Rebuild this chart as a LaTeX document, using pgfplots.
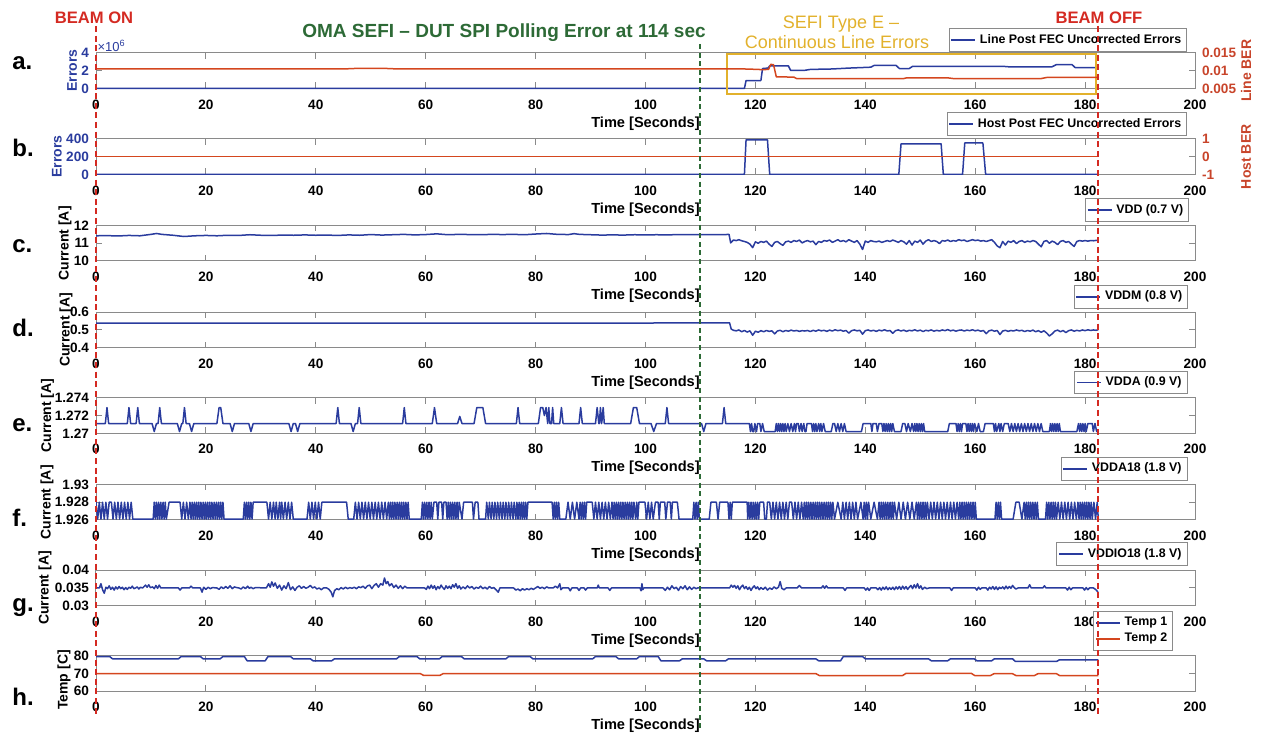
\documentclass[border=0pt]{standalone}
\usepackage{fontspec}
\setmainfont{Liberation Sans}
\usepackage{pgfplots}
\pgfplotsset{compat=1.18}
\definecolor{lblue}{HTML}{2A3C9E}
\definecolor{lred}{HTML}{D4461E}
\definecolor{tred}{HTML}{C8442A}
\definecolor{bred}{HTML}{D42A22}
\definecolor{dgreen}{HTML}{2D6A36}
\definecolor{gold}{HTML}{E2B12C}
\definecolor{axgray}{HTML}{8A8A8A}
\newcommand\tfont{\bfseries\fontsize{6.8}{8}\selectfont}
\pgfplotsset{
  panel/.style={
    scale only axis, width=549.5pt, height=17.75pt,
    anchor=south west,
    xmin=0, xmax=200, xtick={0,20,...,200},
    scaled ticks=false,
    /pgf/number format/fixed,
    /pgf/number format/precision=3,
    /pgf/number format/assume math mode=true,
    tick label style={font=\tfont},
    xticklabel style={yshift=-2pt},
    xlabel={Time [Seconds]},
    xlabel style={font=\bfseries\fontsize{7.3}{8.5}\selectfont, at={(axis description cs:0.5,0)}, anchor=center, yshift=-17.4pt},
    ylabel style={font=\bfseries\fontsize{7}{8}\selectfont, anchor=center},
    axis line style={axgray, line width=0.5pt},
    tick style={axgray, line width=0.5pt},
    major tick length=3pt,
    legend style={font=\bfseries\fontsize{6.2}{7}\selectfont, draw=axgray, line width=0.4pt, fill=white, inner sep=0.7pt, anchor=south east, row sep=-1.8pt},
    legend cell align=left,
    legend image code/.code={\draw[##1, line width=0.8pt] (0cm,0cm) -- (0.42cm,0cm);},
    every axis plot/.append style={line width=0.75pt, line join=round},
  },
}
\begin{document}
\begin{tikzpicture}
\begin{scope}[x=0.5pt,y=-0.5pt]
\useasboundingbox (0,0) rectangle (1263,734);
\end{scope}

% ---------------- a ----------------
\begin{axis}[panel, at={(48pt,-44.25pt)}, ymin=0, ymax=4000000, ytick={0,2000000,4000000}, yticklabels={0,2,4},
  ytick pos=left, yticklabel style={text=lblue}, ylabel={Errors},
  ylabel style={text=lblue, at={(axis description cs:-0.0218,0.5)}}, clip=false,
  legend style={at={(axis description cs:0.9927,1.03)}}]
\addplot[lblue] coordinates {(0,0)(118.0,0)(118.3,900000)(121.0,900000)(121.3,2250000)(122.3,2300000)(122.6,2550000)(126.0,2550000)(126.4,2050000)(129,2050000)(130,2150000)(134,2200000)(137,2300000)(139,2350000)(141,2400000)(141.6,2600000)(145.6,2600000)(146.2,2250000)(148,2250000)(148.6,2500000)(165,2500000)(166,2450000)(174,2450000)(174.8,2700000)(177.6,2700000)(178.2,2350000)(182.4,2350000)};
\addlegendentry{Line Post FEC Uncorrected Errors}
\draw[gold, line width=1pt] (axis cs:114.8,-650000) rectangle (axis cs:182.0,3930000);
\node[anchor=south west, text=lblue, inner sep=0.6pt, font=\fontsize{6.5}{7}\selectfont] at (axis description cs:0,1) {×10\textsuperscript{6}};
\end{axis}
\begin{axis}[panel, at={(48pt,-44.25pt)}, hide x axis, axis y line*=right, y axis line style={-},
  ymin=0.005, ymax=0.015, ytick={0.005,0.01,0.015}, yticklabel style={text=tred},
  ylabel={Line BER}, ylabel style={text=tred, at={(axis description cs:1.0464,0.5)}}]
\addplot[lred] coordinates {(0,0.0105)(30,0.0105)(45,0.0105)(48,0.0107)(52,0.0107)(55,0.0105)(110,0.0105)(118,0.0105)(120,0.0104)(121.5,0.0103)(122.4,0.0104)(122.8,0.0118)(123.3,0.0117)(123.8,0.0083)(127,0.0082)(127.5,0.0078)(140,0.0078)(147,0.0078)(147.5,0.0080)(155,0.0080)(156,0.0078)(172,0.0078)(173,0.0081)(182.4,0.0081)};
\end{axis}

% ---------------- b ----------------
\begin{axis}[panel, at={(48pt,-87.25pt)}, ymin=0, ymax=400, ytick={0,200,400},
  ytick pos=left, yticklabel style={text=lblue}, ylabel={Errors},
  ylabel style={text=lblue, at={(axis description cs:-0.0355,0.5)}},
  legend style={at={(axis description cs:0.9927,1.09)}}]
\addplot[lblue] coordinates {(0,0)(118.0,0)(118.3,390)(122.2,390)(122.6,0)(146.1,0)(146.5,345)(153.8,345)(154.2,0)(157.7,0)(158.1,355)(161.4,355)(161.9,0)(182.4,0)};
\addlegendentry{Host Post FEC Uncorrected Errors}
\end{axis}
\begin{axis}[panel, at={(48pt,-87.25pt)}, hide x axis, axis y line*=right, y axis line style={-},
  ymin=-1, ymax=1, ytick={-1,0,1}, yticklabel style={text=tred},
  ylabel={Host BER}, ylabel style={text=tred, at={(axis description cs:1.0464,0.5)}}]
\addplot[lred] coordinates {(0,0)(182.4,0)};
\end{axis}

% ---------------- c ----------------
\begin{axis}[panel, at={(48pt,-130.5pt)}, ymin=10, ymax=12, ytick={10,11,12},
  ylabel={Current [A]}, ylabel style={at={(axis description cs:-0.0282,0.5)}},
  legend style={at={(axis description cs:0.9945,1.1)}}]
\addplot[lblue] coordinates {(0,11.42)(2,11.43)(4,11.41)(6,11.44)(8,11.42)(10,11.5)(11,11.55)(12,11.5)(14,11.45)(16,11.38)(18,11.42)(20,11.44)(22,11.42)(24,11.45)(26,11.44)(28,11.48)(30,11.45)(32,11.44)(34,11.46)(36,11.45)(38,11.47)(40,11.45)(42,11.46)(44,11.44)(46,11.47)(48,11.45)(50,11.49)(52,11.46)(54,11.48)(56,11.5)(58,11.47)(60,11.49)(62,11.53)(64,11.48)(66,11.5)(68,11.49)(70,11.48)(72,11.5)(74,11.49)(76,11.5)(78,11.48)(80,11.52)(82,11.55)(84,11.5)(86,11.49)(87,11.54)(88,11.5)(90,11.48)(92,11.46)(94,11.47)(96,11.46)(98,11.48)(100,11.47)(102,11.48)(104,11.47)(106,11.49)(108,11.48)(110,11.48)(112,11.49)(114,11.48)(115.2,11.5)
(115.5,11.02)(116,11.18)(116.5,11.15)(117,11.2)(117.5,11.14)(118,11.1)(118.5,11.05)(119,10.95)(119.5,10.75)(120,11.08)(120.5,11.0)(121,11.1)(121.5,11.05)(122,11.12)(122.5,10.95)(123,10.82)(123.5,11.05)(124,11.1)(124.5,10.98)(125,10.88)(125.5,11.08)(126,11.12)(126.5,11.05)(127,11.15)(127.5,11.1)(128,11.18)(128.5,11.02)(129,11.1)(129.5,11.15)(130,11.08)(130.5,11.12)(131,10.92)(131.5,11.1)(132,11.05)(132.5,11.15)(133,11.12)(133.5,11.18)(134,11.05)(134.5,11.12)(135,11.2)(135.5,11.1)(136,11.15)(136.5,11.08)(137,11.2)(137.5,11.12)(138,11.05)(138.5,11.15)(139,10.95)(139.5,10.65)(140,11.12)(140.5,11.05)(141,11.15)(141.5,11.1)(142,11.08)(142.5,11.12)(143,11.05)(143.5,11.1)(144,11.15)(144.5,11.1)(145,11.18)(145.5,11.12)(146,11.05)(146.5,11.15)(147,11.08)(147.5,10.95)(148,11.15)(148.5,10.9)(149,11.12)(149.5,11.05)(150,11.18)(150.5,10.95)(151,11.12)(151.5,11.2)(152,11.1)(152.5,11.15)(153,11.1)(153.5,10.98)(154,11.15)(154.5,11.12)(155,11.18)(155.5,11.1)(156,11.15)(156.5,11.12)(157,11.2)(157.5,11.15)(158,11.18)(158.5,11.1)(159,11.15)(159.5,11.2)(160,11.15)(160.5,11.18)(161,11.12)(161.5,11.15)(162,11.1)(162.5,11.15)(163,11.2)(163.5,11.05)(164,10.85)(164.5,10.75)(165,11.1)(165.5,10.9)(166,11.12)(166.5,11.05)(167,11.15)(167.5,10.98)(168,11.1)(168.5,11.15)(169,11.05)(169.5,11.12)(170,11.08)(170.5,11.15)(171,11.1)(171.5,10.95)(172,10.8)(172.5,11.1)(173,11.15)(173.5,11.0)(174,11.12)(174.5,11.05)(175,10.92)(175.5,11.1)(176,11.15)(176.5,11.05)(177,11.1)(177.5,10.95)(178,10.82)(178.5,11.1)(179,11.15)(179.5,11.12)(180,11.15)(180.5,11.12)(181,11.15)(181.5,11.14)(182,11.16)(182.4,11.15)};
\addlegendentry{VDD (0.7 V)}
\end{axis}

% ---------------- d ----------------
\begin{axis}[panel, at={(48pt,-173.85pt)}, ymin=0.4, ymax=0.6, ytick={0.4,0.5,0.6},
  ylabel={Current [A]}, ylabel style={at={(axis description cs:-0.0273,0.5)}},
  legend style={at={(axis description cs:0.9936,1.1)}}]
\addplot[lblue] coordinates {(0,0.538)(10,0.539)(20,0.538)(30,0.539)(40,0.538)(50,0.539)(60,0.539)(70,0.538)(80,0.539)(90,0.539)(100,0.539)(110,0.54)(115.3,0.54)
(115.6,0.505)(116,0.498)(116.5,0.495)(117,0.5)(117.5,0.49)(118,0.497)(118.5,0.488)(119,0.495)(119.5,0.47)(120,0.493)(120.5,0.487)(121,0.496)(121.5,0.49)(122,0.497)(122.5,0.492)(123,0.495)(123.5,0.478)(124,0.494)(124.5,0.498)(125,0.49)(125.5,0.497)(126,0.493)(126.5,0.499)(127,0.494)(127.5,0.497)(128,0.492)(128.5,0.496)(129,0.494)(129.5,0.497)(130,0.491)(130.5,0.498)(131,0.493)(131.5,0.5)(132,0.495)(132.5,0.498)(133,0.492)(133.5,0.499)(134,0.494)(134.5,0.501)(135,0.496)(135.5,0.499)(136,0.493)(136.5,0.497)(137,0.482)(137.5,0.496)(138,0.5)(138.5,0.495)(139,0.498)(139.5,0.476)(140,0.496)(140.5,0.5)(141,0.494)(141.5,0.498)(142,0.492)(142.5,0.499)(143,0.495)(143.5,0.501)(144,0.494)(144.5,0.497)(145,0.481)(145.5,0.496)(146,0.5)(146.5,0.494)(147,0.499)(147.5,0.492)(148,0.498)(148.5,0.495)(149,0.501)(149.5,0.494)(150,0.499)(150.5,0.491)(151,0.498)(151.5,0.495)(152,0.5)(152.5,0.493)(153,0.498)(153.5,0.494)(154,0.5)(154.5,0.496)(155,0.502)(155.5,0.495)(156,0.499)(156.5,0.493)(157,0.498)(157.5,0.5)(158,0.494)(158.5,0.499)(159,0.496)(159.5,0.501)(160,0.495)(160.5,0.499)(161,0.493)(161.5,0.497)(162,0.479)(162.5,0.495)(163,0.499)(163.5,0.493)(164,0.497)(164.5,0.474)(165,0.494)(165.5,0.498)(166,0.492)(166.5,0.497)(167,0.494)(167.5,0.5)(168,0.495)(168.5,0.498)(169,0.491)(169.5,0.497)(170,0.493)(170.5,0.499)(171,0.49)(171.5,0.496)(172,0.487)(172.5,0.495)(173,0.483)(173.5,0.466)(174,0.478)(174.5,0.494)(175,0.499)(175.5,0.49)(176,0.497)(176.5,0.485)(177,0.496)(177.5,0.5)(178,0.493)(178.5,0.498)(179,0.494)(179.5,0.5)(180,0.496)(180.5,0.501)(181,0.497)(181.5,0.5)(182,0.498)(182.4,0.501)};
\addlegendentry{VDDM (0.8 V)}
\end{axis}

% ---------------- e ----------------
\begin{axis}[panel, at={(48pt,-216.65pt)}, ymin=1.27, ymax=1.274, ytick={1.27,1.272,1.274},
  ylabel={Current [A]}, ylabel style={at={(axis description cs:-0.0441,0.5)}},
  legend style={at={(axis description cs:0.993,1.1)}}]
\addplot[lblue] coordinates {(0,1.2711)(1.7,1.2711)(2.0,1.2729)(2.3,1.2711)(5.7,1.2711)(6.0,1.2729)(6.3,1.2711)(7.3,1.2711)(7.6,1.2729)(7.9,1.2711)(10.2,1.2711)(10.6,1.2702)(11.0,1.2711)(11.3,1.2711)(11.6,1.2729)(11.9,1.2711)(14.8,1.2711)(15.2,1.2702)(15.6,1.2711)(15.8,1.2711)(16.1,1.2729)(16.4,1.2711)(17.0,1.2711)(17.4,1.2702)(17.8,1.2711)(22.0,1.2711)(22.4,1.2729)(22.7,1.2729)(23.1,1.2711)(24.4,1.2711)(24.8,1.2702)(25.2,1.2711)(27.8,1.2711)(28.2,1.2702)(28.6,1.2711)(35.1,1.2711)(35.5,1.2702)(35.9,1.2711)(36.3,1.2711)(36.7,1.2702)(37.1,1.2711)(43.7,1.2711)(44.0,1.2729)(44.3,1.2711)(46.4,1.2711)(46.8,1.2702)(47.2,1.2711)(47.6,1.2711)(47.9,1.2729)(48.2,1.2711)(55.8,1.2711)(56.1,1.2729)(56.4,1.2711)(61.2,1.2711)(61.6,1.2729)(62.0,1.2711)(65.8,1.2711)(66.2,1.2719)(66.6,1.2711)(68.8,1.2711)(69.3,1.2729)(70.4,1.2729)(70.9,1.2711)(76.5,1.2711)(76.8,1.2729)(77.1,1.2711)(80.5,1.2711)(80.9,1.2729)(81.3,1.2729)(81.6,1.272)(81.9,1.2729)(82.2,1.2711)(82.4,1.2729)(82.6,1.2711)(82.9,1.2711)(83.1,1.2729)(83.3,1.2711)(84.4,1.2711)(84.7,1.2729)(85.0,1.2711)(87.9,1.2711)(88.2,1.2729)(88.5,1.2711)(90.9,1.2711)(91.2,1.2729)(91.5,1.2711)(91.6,1.2711)(91.8,1.2729)(92.0,1.2711)(92.1,1.2715)(92.3,1.2729)(92.5,1.2711)(97.3,1.2711)(97.8,1.2729)(98.4,1.2729)(98.9,1.2711)(101.0,1.2711)(101.5,1.2702)(102.0,1.2711)(103.6,1.2711)(103.9,1.2729)(104.2,1.2711)(110.2,1.2711)(110.6,1.2702)(111.0,1.2711)(114.0,1.2711)(114.3,1.2729)(114.6,1.2711)
(118.9,1.2711)(119.1,1.2702)(119.3,1.2711)(119.5,1.2702)(119.7,1.2702)(119.9,1.2711)(120.2,1.2702)(120.4,1.2711)(120.8,1.2711)(121.0,1.2702)(121.3,1.2711)(121.6,1.2702)(123.6,1.2702)(123.8,1.2711)(124.0,1.2702)(124.2,1.2711)(124.4,1.2702)(124.6,1.2711)(124.8,1.2702)(125.0,1.2711)(125.2,1.2702)(125.4,1.2711)(125.6,1.2702)(125.9,1.2711)(126.2,1.2702)(126.5,1.2711)(126.8,1.2702)(127.1,1.2711)(127.3,1.2702)(127.5,1.2711)(127.8,1.2711)(128.0,1.2702)(128.3,1.2711)(128.5,1.2702)(128.8,1.2711)(129.0,1.2702)(129.2,1.2702)(129.4,1.2711)(130.2,1.2711)(130.4,1.2702)(130.6,1.2711)(130.8,1.2702)(131.0,1.2711)(131.2,1.2702)(131.5,1.2711)(131.7,1.2702)(131.9,1.2711)(132.1,1.2702)(132.4,1.2711)(132.7,1.2702)(133.8,1.2702)(134.1,1.2711)(134.4,1.2711)(134.7,1.2702)(135.0,1.2711)(135.3,1.2702)(135.6,1.2711)(135.9,1.2702)(136.2,1.2711)(136.5,1.2702)(139.3,1.2702)(139.6,1.2711)(141.0,1.2711)(141.2,1.2702)(141.4,1.2711)(142.0,1.2711)(142.2,1.2702)(142.5,1.2711)(143.0,1.2711)(143.2,1.2702)(143.4,1.2711)(143.6,1.2702)(143.8,1.2711)(144.0,1.2702)(144.2,1.2711)(144.4,1.2702)(144.6,1.2711)(144.8,1.2702)(145.0,1.2711)(145.3,1.2702)(146.5,1.2702)(146.8,1.2711)(147.2,1.2711)(147.5,1.2702)(147.8,1.2711)(148.2,1.2702)(148.5,1.2711)(148.8,1.2702)(149.0,1.2711)(149.2,1.2702)(149.4,1.2711)(149.6,1.2702)(149.8,1.2711)(150.0,1.2702)(150.2,1.2711)(150.4,1.2702)(150.6,1.2711)(150.8,1.2702)(155.0,1.2702)(155.3,1.2711)(156.5,1.2711)(156.7,1.2702)(156.9,1.2711)(157.1,1.2702)(157.3,1.2711)(157.5,1.2702)(157.7,1.2711)(158.3,1.2711)(158.5,1.2702)(158.7,1.2711)(158.9,1.2702)(159.1,1.2711)(159.3,1.2702)(159.5,1.2711)(159.7,1.2702)(159.9,1.2711)(160.3,1.2702)(160.6,1.2711)(160.9,1.2702)(161.5,1.2702)(161.8,1.2711)(163.3,1.2711)(163.5,1.2702)(163.7,1.2711)(163.9,1.2702)(164.3,1.2711)(164.5,1.2702)(164.7,1.2711)(165.0,1.2702)(165.3,1.2711)(166.0,1.2711)(166.3,1.2702)(166.6,1.2711)(166.9,1.2702)(167.2,1.2711)(167.5,1.2702)(167.8,1.2711)(168.1,1.2702)(168.4,1.2711)(168.7,1.2702)(169.0,1.2711)(169.3,1.2702)(169.6,1.2711)(169.9,1.2702)(170.2,1.2711)(170.5,1.2702)(170.8,1.2711)(171.1,1.2702)(171.4,1.2711)(171.7,1.2702)(172.0,1.2711)(172.3,1.2702)(173.5,1.2702)(173.7,1.2711)(173.9,1.2702)(174.1,1.2711)(174.3,1.2702)(174.5,1.2711)(174.7,1.2702)(174.9,1.2711)(175.1,1.2702)(175.3,1.2711)(175.5,1.2702)(178.5,1.2702)(178.8,1.2711)(179.0,1.2702)(179.2,1.2711)(179.4,1.2702)(179.6,1.2711)(179.8,1.2702)(180.0,1.2711)(180.2,1.2702)(180.5,1.2711)(181.3,1.2711)(181.5,1.2702)(181.8,1.2711)(182.1,1.2702)(182.4,1.2702)};
\addlegendentry{VDDA (0.9 V)}
\end{axis}

% ---------------- f ----------------
\begin{axis}[panel, at={(48pt,-260pt)}, ymin=1.926, ymax=1.93, ytick={1.926,1.928,1.93},
  ylabel={Current [A]}, ylabel style={at={(axis description cs:-0.0446,0.5)}},
  legend style={at={(axis description cs:0.993,1.11)}}]
\addplot[lblue] coordinates {(0,1.928)(0.3,1.9261)(0.6,1.928)(0.9,1.9261)(1.2,1.928)(1.5,1.9261)(1.8,1.928)(2.1,1.9261)(2.4,1.928)(2.8,1.928)(3.1,1.9261)(3.4,1.928)(3.7,1.9261)(4.0,1.928)(4.3,1.9261)(4.6,1.928)(4.9,1.9261)(5.2,1.928)(5.5,1.9261)(5.8,1.928)(6.1,1.9261)(6.4,1.928)(6.7,1.9261)(10.4,1.9261)
(10.6,1.928)(10.8,1.9261)(11.0,1.928)(11.2,1.9261)(11.4,1.928)(11.6,1.9261)(11.8,1.928)(12.0,1.9261)(12.2,1.928)(12.4,1.9261)(12.6,1.928)(12.8,1.9261)(13.3,1.928)(15.3,1.928)
(15.6,1.9261)(15.9,1.928)(16.2,1.9261)(16.5,1.928)(16.8,1.9261)(17.1,1.928)
(17.3,1.9261)(17.5,1.928)(17.7,1.9261)(17.9,1.928)(18.1,1.9261)(18.3,1.928)(18.5,1.9261)(18.7,1.928)(18.9,1.9261)(19.1,1.928)(19.3,1.9261)(19.5,1.928)(19.7,1.9261)(19.9,1.928)(20.1,1.9261)(20.3,1.928)(20.5,1.9261)(20.7,1.928)(20.9,1.9261)(21.1,1.928)(21.3,1.9261)(21.5,1.928)(21.7,1.9261)(21.9,1.928)(22.1,1.9261)(22.3,1.928)(22.5,1.9261)(22.7,1.928)(22.9,1.9261)(23.1,1.928)(23.3,1.9261)(26.8,1.9261)
(27.0,1.928)(27.2,1.9261)(27.4,1.928)(27.6,1.9261)(27.8,1.928)(28.0,1.9261)(28.2,1.928)(28.4,1.9261)(28.6,1.928)(31.1,1.928)
(31.4,1.9261)(31.7,1.928)(32.0,1.9261)(32.3,1.928)(32.6,1.9261)(32.8,1.928)(33.1,1.9261)(33.4,1.928)(33.6,1.9261)(33.8,1.928)(34.1,1.9261)(34.4,1.928)(34.7,1.9261)(35.0,1.928)(35.3,1.9261)(35.6,1.928)(35.9,1.9261)(38.4,1.9261)
(38.7,1.928)(39.0,1.9261)(39.3,1.928)(39.6,1.9261)(39.9,1.928)(40.2,1.9261)(40.5,1.928)(40.8,1.9261)(41.1,1.928)(45.6,1.928)(45.9,1.9261)(46.9,1.9261)
(47.2,1.928)(47.5,1.9261)(47.8,1.928)(48.1,1.9261)(48.4,1.928)(48.7,1.9261)(49.0,1.928)(49.3,1.9261)(49.6,1.928)(49.9,1.9261)(50.2,1.928)(50.5,1.9261)(50.8,1.928)(51.1,1.9261)(51.4,1.928)(51.7,1.9261)(52.0,1.928)(52.3,1.9261)(52.6,1.928)(52.9,1.9261)(53.2,1.928)
(53.4,1.9261)(53.6,1.928)(53.8,1.9261)(54.0,1.928)(54.2,1.9261)(54.4,1.928)(54.6,1.9261)(54.8,1.928)(55.0,1.9261)(55.2,1.928)(55.4,1.9261)(55.6,1.928)(55.8,1.9261)(56.0,1.928)(56.2,1.9261)(56.4,1.928)(56.6,1.9261)(56.8,1.928)(57.0,1.9261)(59.2,1.9261)
(59.4,1.928)(59.6,1.9261)(59.8,1.928)(60.0,1.9261)(60.2,1.928)(60.4,1.9261)(60.6,1.928)(60.8,1.9261)(61.0,1.928)(61.2,1.9261)(61.5,1.928)(62.0,1.928)(62.2,1.9261)(62.4,1.928)(62.9,1.928)(63.1,1.9261)(63.3,1.928)(63.7,1.928)
(63.9,1.9261)(64.1,1.928)(64.3,1.9261)(64.5,1.928)(64.7,1.9261)(64.9,1.928)(65.1,1.9261)(65.3,1.928)(65.5,1.9261)(65.7,1.928)(65.9,1.9261)(66.1,1.928)(66.6,1.9261)(66.9,1.928)(68.5,1.928)(68.7,1.9261)(69.0,1.928)(69.5,1.928)(69.7,1.9261)(70.9,1.9261)
(71.1,1.928)(71.4,1.9261)(71.6,1.928)(71.9,1.9261)(72.1,1.928)(72.4,1.9261)(72.6,1.928)(72.9,1.9261)(73.1,1.928)(73.4,1.9261)(73.6,1.928)(73.9,1.9261)(74.1,1.928)(74.4,1.9261)(74.6,1.928)(74.9,1.9261)(75.1,1.928)(75.4,1.9261)(75.6,1.928)(75.9,1.9261)(76.1,1.928)(76.4,1.9261)
(76.6,1.928)(76.8,1.9261)(77.0,1.928)(77.2,1.9261)(77.4,1.928)(77.6,1.9261)(77.8,1.928)(78.0,1.9261)(78.2,1.928)(78.4,1.9261)(78.6,1.928)(83.0,1.928)
(83.2,1.9261)(83.4,1.928)(83.6,1.9261)(83.8,1.928)(84.0,1.9261)(84.2,1.928)(84.4,1.9261)(85.5,1.9261)(85.9,1.928)(86.3,1.9261)(86.7,1.928)(87.1,1.9261)(87.5,1.928)(87.9,1.9261)
(88.1,1.928)(88.3,1.9261)(88.5,1.928)(88.7,1.9261)(88.9,1.928)(89.1,1.9261)(89.3,1.928)(90.3,1.928)
(90.6,1.9261)(90.9,1.928)(91.2,1.9261)(91.5,1.928)(91.8,1.9261)(92.1,1.928)(92.4,1.9261)(92.7,1.928)(93.0,1.9261)(93.3,1.928)(93.6,1.9261)(93.9,1.928)
(94.1,1.9261)(94.3,1.928)(94.5,1.9261)(94.7,1.928)(94.9,1.9261)(95.1,1.928)(95.3,1.9261)(95.5,1.928)(95.7,1.9261)(95.9,1.928)(96.1,1.9261)(96.3,1.928)(96.5,1.9261)(96.7,1.928)(96.9,1.9261)(97.1,1.928)(97.3,1.9261)(97.5,1.928)(97.7,1.9261)
(97.9,1.928)(98.2,1.9261)(98.4,1.928)(98.6,1.9261)(98.8,1.928)(99.9,1.928)
(100.2,1.9261)(100.5,1.928)(100.8,1.9261)(101.1,1.928)(101.4,1.9261)(101.8,1.928)(102.3,1.928)(102.5,1.9261)(102.7,1.928)(103.5,1.928)(103.7,1.9261)(104.0,1.928)(104.5,1.928)(104.7,1.9261)(104.9,1.928)(105.8,1.928)(106.1,1.9261)(108.6,1.9261)
(108.8,1.928)(109.0,1.9261)(109.2,1.928)(109.4,1.9261)(109.6,1.928)(109.8,1.9261)(111.6,1.9261)(111.9,1.928)(112.9,1.928)(113.2,1.9261)(113.5,1.928)(115.0,1.928)
(115.2,1.9261)(115.4,1.928)(115.6,1.9261)(115.8,1.928)(118.5,1.928)
(118.6,1.9261)(118.8,1.928)(119.0,1.9261)(119.2,1.928)(119.4,1.9261)(119.6,1.928)(119.8,1.9261)(120.0,1.928)(120.2,1.9261)(120.4,1.928)(120.6,1.9261)(120.8,1.928)(121.5,1.928)(121.7,1.9261)(122.0,1.9261)(122.2,1.928)(122.6,1.928)
(122.9,1.9261)(123.2,1.928)(123.5,1.9261)(123.8,1.928)(124.1,1.9261)(124.4,1.928)(124.7,1.9261)(125.0,1.928)(125.3,1.9261)(125.6,1.928)(125.9,1.9261)(126.2,1.928)(126.6,1.928)(126.9,1.9261)(127.2,1.928)(127.5,1.9261)(127.8,1.928)(128.1,1.9261)(128.4,1.928)(128.7,1.9261)(128.9,1.928)(129.1,1.9261)(129.3,1.928)(129.5,1.9261)(129.7,1.928)(129.9,1.9261)(130.1,1.928)(130.3,1.9261)(130.5,1.928)(130.7,1.9261)(130.9,1.928)(131.1,1.9261)(131.3,1.928)(131.5,1.9261)
(131.7,1.928)(131.9,1.9261)(132.1,1.928)(132.3,1.9261)(132.5,1.928)(132.7,1.9261)(132.9,1.928)(133.1,1.9261)(133.3,1.928)(133.5,1.9261)(133.7,1.928)(133.9,1.9261)(134.1,1.928)
(134.4,1.9261)(135.0,1.928)(135.6,1.9261)(135.9,1.928)
(136.2,1.9261)(136.5,1.928)(136.8,1.9261)(137.1,1.928)(137.4,1.9261)(137.7,1.928)(138.0,1.9261)(138.3,1.928)(138.6,1.9261)
(139.2,1.928)(139.6,1.9261)(139.8,1.928)(140.0,1.9261)(140.2,1.928)(140.4,1.9261)(140.6,1.928)
(141.0,1.9261)(141.6,1.928)(142.2,1.9261)(142.5,1.928)
(142.7,1.9261)(142.9,1.928)(143.1,1.9261)(143.3,1.928)(143.5,1.9261)(143.7,1.928)(143.9,1.9261)(144.1,1.928)(144.3,1.9261)(144.5,1.928)(144.7,1.9261)(144.9,1.928)(145.1,1.9261)(145.3,1.928)
(145.7,1.9261)(146.1,1.928)(146.5,1.9261)(146.9,1.928)(147.3,1.9261)(147.7,1.928)(148.1,1.9261)(148.5,1.928)(148.9,1.9261)(149.3,1.928)
(149.5,1.9261)(149.7,1.928)(149.9,1.9261)(150.1,1.928)(150.3,1.9261)(150.5,1.928)(150.7,1.9261)(150.9,1.928)(151.1,1.9261)(151.3,1.928)(151.6,1.9261)(151.9,1.928)
(152.2,1.9261)(152.5,1.928)(152.8,1.9261)(153.1,1.928)(153.4,1.9261)(153.7,1.928)(154.0,1.9261)(154.3,1.928)(154.6,1.9261)(154.9,1.928)(155.2,1.9261)(155.5,1.928)(155.8,1.9261)(156.1,1.928)(156.4,1.9261)(156.7,1.928)(157.0,1.9261)
(157.2,1.928)(157.4,1.9261)(157.6,1.928)(157.8,1.9261)(158.0,1.928)(158.2,1.9261)(158.4,1.928)(158.6,1.9261)(158.8,1.928)(159.0,1.9261)(159.2,1.928)(159.4,1.9261)(159.6,1.928)(159.8,1.9261)(160.0,1.928)(160.2,1.9261)(163.6,1.9261)
(163.8,1.928)(164.0,1.9261)(164.2,1.928)(164.4,1.9261)(164.6,1.928)(164.8,1.9261)(166.9,1.9261)
(167.4,1.928)(168.0,1.928)(168.5,1.9261)(168.9,1.928)
(169.1,1.9261)(169.3,1.928)(169.5,1.9261)(169.7,1.928)(169.9,1.9261)(170.1,1.928)(170.3,1.9261)(170.5,1.928)(170.7,1.9261)(170.9,1.928)(171.1,1.9261)(171.3,1.928)(171.5,1.9261)(172.8,1.9261)
(173.0,1.928)(173.2,1.9261)(173.4,1.928)(173.6,1.9261)(173.8,1.928)(174.0,1.9261)(174.2,1.928)(174.4,1.9261)(174.6,1.928)(174.8,1.9261)
(175.1,1.928)(175.4,1.9261)(175.7,1.928)(176.0,1.9261)(176.3,1.928)(176.6,1.9261)(176.9,1.928)(177.2,1.9261)(177.5,1.928)(177.8,1.9261)(178.1,1.928)(178.4,1.9261)(178.7,1.928)
(178.9,1.9261)(179.1,1.928)(179.3,1.9261)(179.5,1.928)(179.7,1.9261)(179.9,1.928)(180.1,1.9261)(180.3,1.928)(180.5,1.9261)(180.7,1.928)(180.9,1.9261)(181.1,1.928)(181.3,1.9261)
(181.6,1.928)(181.9,1.9261)(182.2,1.928)(182.4,1.9261)};
\addlegendentry{VDDA18 (1.8 V)}
\end{axis}

% ---------------- g ----------------
\begin{axis}[panel, at={(48pt,-302.85pt)}, ymin=0.03, ymax=0.04, ytick={0.03,0.035,0.04},
  ylabel={Current [A]}, ylabel style={at={(axis description cs:-0.0464,0.5)}},
  legend style={at={(axis description cs:0.993,1.12)}}]
\addplot[lblue] coordinates {(0,0.035)(0.6,0.035)(0.9,0.0362)(1.2,0.0345)(1.5,0.0335)(1.8,0.0352)(2.1,0.0348)(2.4,0.0356)(2.7,0.0346)(3.0,0.0352)(3.3,0.0344)(3.6,0.0353)(3.9,0.0347)(4.2,0.0354)(4.5,0.0348)(4.8,0.0352)(5.1,0.0345)(5.4,0.0351)(5.7,0.0346)(6.0,0.0352)(6.3,0.0349)(6.6,0.0355)(6.9,0.0348)(7.2,0.035)(7.5,0.0353)(7.8,0.0347)(8.1,0.0352)(8.5,0.035)(9.0,0.0358)(9.3,0.0352)(9.6,0.0359)(9.9,0.0351)(10.3,0.0353)(10.6,0.0348)(10.9,0.0357)(11.2,0.0349)(11.5,0.0358)(11.8,0.035)(15.0,0.035)(15.3,0.0344)(15.6,0.035)(17.0,0.035)(17.3,0.0355)(17.6,0.035)(19.0,0.035)(19.3,0.0338)(19.6,0.0352)(20.0,0.0346)(20.4,0.0352)(20.8,0.0348)(21.2,0.0351)(22.0,0.035)(22.4,0.0346)(22.8,0.0353)(23.2,0.0348)(23.6,0.0354)(24.0,0.0349)(24.4,0.0356)(24.8,0.0348)(25.2,0.0353)(25.6,0.0351)(26.0,0.035)(26.4,0.0347)(26.8,0.0353)(27.2,0.0348)(27.6,0.0355)(27.9,0.0349)(28.2,0.0352)(28.6,0.0348)(29.0,0.0351)(31.0,0.035)(31.4,0.0362)(31.7,0.0352)(32.0,0.0367)(32.3,0.0355)(32.6,0.0364)(33.0,0.0349)(33.4,0.0358)(33.8,0.0344)(34.2,0.0356)(34.6,0.0348)(35.0,0.0365)(35.4,0.0345)(35.8,0.0353)(36.2,0.0343)(36.6,0.0352)(37.0,0.0356)(37.4,0.0349)(37.8,0.0354)(38.2,0.0349)(38.6,0.0352)(39.0,0.0357)(39.4,0.035)(39.8,0.0353)(40.2,0.0347)(40.6,0.035)(41.0,0.0345)(41.4,0.035)(42.0,0.035)(42.4,0.0346)(42.8,0.0338)(43.1,0.0325)(43.4,0.0342)(43.8,0.0348)(44.2,0.0345)(44.6,0.0351)(45.0,0.0347)(45.4,0.0352)(45.8,0.0348)(46.2,0.0351)(46.6,0.0349)(47.0,0.0352)(47.4,0.0348)(47.8,0.0353)(48.2,0.0351)(48.6,0.0355)(49.0,0.0349)(49.4,0.0356)(49.8,0.0358)(50.2,0.0348)(50.6,0.0357)(51.0,0.0362)(51.4,0.0352)(51.8,0.0362)(52.2,0.0358)(52.5,0.0378)(52.8,0.0362)(53.1,0.0368)(53.4,0.0356)(53.8,0.0362)(54.2,0.0351)(54.6,0.0358)(55.0,0.0349)(55.4,0.0356)(55.8,0.0348)(56.2,0.0355)(56.6,0.035)(59.8,0.035)(60.1,0.0346)(60.4,0.0355)(60.7,0.0348)(61.0,0.0358)(61.3,0.0349)(61.6,0.0356)(61.9,0.0345)(62.2,0.0354)(62.5,0.0348)(62.8,0.0358)(63.1,0.0351)(63.4,0.0346)(63.7,0.0356)(64.0,0.0349)(64.3,0.0355)(64.6,0.0348)(64.9,0.0359)(65.2,0.0352)(65.5,0.0362)(65.8,0.0349)(66.1,0.0356)(66.4,0.0347)(66.8,0.0353)(67.2,0.0348)(67.6,0.0356)(68.0,0.035)(68.4,0.0354)(68.8,0.0347)(69.2,0.0352)(69.6,0.0349)(70.0,0.0355)(70.4,0.0348)(70.8,0.0352)(71.2,0.0347)(71.6,0.0354)(72.0,0.0349)(72.4,0.0351)(72.8,0.0345)(73.2,0.0338)(73.5,0.035)(76.0,0.035)(76.4,0.0344)(76.8,0.0347)(77.2,0.0342)(77.6,0.0348)(78.0,0.0344)(78.4,0.0348)(78.8,0.0345)(79.2,0.0349)(79.6,0.0346)(80.0,0.035)(80.4,0.0354)(80.8,0.0349)(81.2,0.0352)(81.6,0.0348)(82.0,0.0353)(82.4,0.035)(83.2,0.035)(83.6,0.0355)(84.0,0.035)(84.4,0.0362)(84.6,0.0345)(84.9,0.035)(86.0,0.035)(86.3,0.0342)(86.6,0.035)(87.6,0.035)(87.9,0.0343)(88.2,0.035)(88.8,0.035)(89.1,0.0344)(89.4,0.035)(91.2,0.035)(91.4,0.0358)(91.6,0.035)(93.2,0.035)(93.5,0.0343)(93.8,0.035)(99.0,0.035)(99.2,0.0342)(99.35,0.0362)(99.5,0.0345)(99.7,0.035)(103.2,0.035)(103.6,0.0343)(104.0,0.0352)(104.4,0.0345)(104.8,0.0356)(105.2,0.0348)(105.6,0.0352)(106.0,0.0343)(106.4,0.0354)(106.8,0.0348)(107.2,0.0356)(107.6,0.0345)(108.0,0.0353)(108.4,0.0346)(108.8,0.0352)(109.2,0.0348)(109.5,0.035)(115.3,0.035)(115.6,0.0358)(115.9,0.0352)(116.2,0.0357)(116.5,0.0349)(116.8,0.0356)(117.1,0.0345)(117.4,0.0353)(117.7,0.0358)(118.0,0.0348)(118.3,0.0354)(118.6,0.0346)(118.9,0.0352)(119.2,0.0343)(119.5,0.0351)(119.8,0.0356)(120.1,0.0348)(120.4,0.0353)(120.7,0.0345)(121.0,0.0351)(121.4,0.0346)(121.8,0.0352)(122.2,0.0344)(122.6,0.035)(123.0,0.0346)(123.4,0.0353)(123.8,0.0348)(124.2,0.0352)(124.5,0.0368)(124.8,0.0349)(125.2,0.0345)(125.6,0.035)(127.6,0.035)(128.0,0.0357)(128.4,0.035)(132.0,0.035)(132.3,0.0356)(132.6,0.0349)(132.9,0.0356)(133.2,0.035)(136.0,0.035)(136.3,0.0343)(136.6,0.035)(139.8,0.035)(140.1,0.0344)(140.4,0.035)(140.7,0.0343)(141.0,0.035)(142.0,0.035)(142.3,0.0345)(142.6,0.0351)(142.9,0.0344)(143.2,0.0352)(143.5,0.0346)(143.8,0.0353)(144.1,0.0345)(144.4,0.0351)(144.7,0.0346)(145.0,0.0352)(145.3,0.0345)(145.6,0.0353)(145.9,0.0347)(146.2,0.0354)(146.5,0.0346)(146.8,0.0355)(147.1,0.0347)(147.4,0.0354)(147.7,0.0346)(148.0,0.0352)(148.3,0.0357)(148.6,0.0348)(148.9,0.0359)(149.2,0.035)(149.5,0.0362)(149.8,0.0349)(150.1,0.0356)(150.4,0.0346)(150.8,0.0352)(151.2,0.0348)(151.6,0.035)(155.4,0.035)(155.7,0.0343)(156.0,0.035)(160.0,0.035)(160.3,0.0344)(160.6,0.0352)(160.9,0.0346)(161.2,0.035)(162.0,0.035)(162.3,0.0344)(162.6,0.0352)(162.9,0.0347)(163.2,0.0354)(163.5,0.0346)(163.8,0.0353)(164.1,0.0345)(164.4,0.0352)(164.7,0.0348)(165.0,0.0353)(165.3,0.0347)(165.6,0.0355)(165.9,0.0348)(166.2,0.0354)(166.5,0.0349)(166.8,0.0357)(167.1,0.0351)(167.4,0.0347)(167.8,0.035)(169.6,0.035)(169.9,0.0359)(170.2,0.035)(172.3,0.035)(172.6,0.0356)(172.9,0.035)(176.5,0.035)(176.8,0.0344)(177.1,0.0352)(177.4,0.0345)(177.7,0.035)(179.6,0.035)(179.9,0.0344)(180.2,0.0351)(180.5,0.0345)(180.8,0.035)(181.5,0.035)(181.8,0.0347)(182.1,0.0343)(182.4,0.0336)};
\addlegendentry{VDDIO18 (1.8 V)}
\end{axis}

% ---------------- h ----------------
\begin{axis}[panel, at={(48pt,-345.65pt)}, ymin=60, ymax=80, ytick={60,70,80},
  ylabel={Temp [C]}, ylabel style={at={(axis description cs:-0.0291,0.32)}},
  legend style={at={(axis description cs:0.98,1.15)}}]
\addplot[lblue] coordinates {(0,79.6)(2.5,79.6)(3.0,78.3)(15.0,78.3)(15.5,79.6)(19.0,79.6)(19.5,78.3)(22.6,78.3)(23.1,79.6)(27.0,79.6)(27.5,77.2)(30.8,77.2)(31.3,79.6)(35.4,79.6)(35.9,78.3)(39.0,78.3)(39.5,77.2)(42.9,77.2)(43.4,78.3)(54.7,78.3)(55.2,79.6)(58.4,79.6)(58.9,78.3)(62.5,78.3)(63.0,79.6)(66.5,79.6)(67.0,78.3)(74.6,78.3)(75.1,79.6)(79.0,79.6)(79.5,78.3)(90.4,78.3)(90.9,79.6)(94.6,79.6)(95.1,78.3)(98.4,78.3)(98.9,79.6)(102.3,79.6)(102.8,77.2)(106.2,77.2)(106.7,78.3)(110.6,78.3)(111.1,77.2)(114.6,77.2)(115.1,78.3)(131.0,78.3)(131.5,77.2)(135.5,77.2)(136.0,79.6)(139.5,79.6)(140.0,78.3)(151.5,78.3)(152.0,77.2)(155.0,77.2)(155.5,78.3)(159.8,78.3)(160.3,77.2)(163.0,77.2)(163.5,78.3)(166.8,78.3)(167.3,76.8)(174.8,76.8)(175.3,77.7)(182.4,77.7)};
\addlegendentry{Temp 1}
\addplot[lred] coordinates {(0,70)(59.0,70)(59.6,69.0)(62.6,69.0)(63.2,70)(131.0,70)(131.6,68.9)(146.8,68.9)(147.4,70.1)(159.3,70.1)(159.9,68.9)(162.8,68.9)(163.4,69.9)(166.8,69.9)(167.4,68.9)(170.8,68.9)(171.4,69.9)(174.8,69.9)(175.4,68.8)(182.4,68.8)};
\addlegendentry{Temp 2}
\end{axis}

% ---------------- annotations ----------------
\begin{scope}[x=0.5pt,y=-0.5pt]
\draw[bred, line width=1pt, dash pattern=on 3pt off 1.8pt] (96,26) -- (96,714);
\draw[bred, line width=1pt, dash pattern=on 3pt off 1.8pt] (1098,26) -- (1098,714);
\draw[dgreen, line width=1pt, dash pattern=on 2.5pt off 1.8pt] (700,44) -- (700,730);
\node[text=bred, font=\bfseries\fontsize{8.3}{9}\selectfont] at (94,17.5) {BEAM ON};
\node[text=bred, font=\bfseries\fontsize{8.3}{9}\selectfont] at (1099,17.5) {BEAM OFF};
\node[text=dgreen, font=\bfseries\fontsize{9.5}{10}\selectfont] at (504,33) {OMA SEFI – DUT SPI Polling Error at 114 sec};
\node[text=gold, font=\fontsize{9}{10}\selectfont] at (841,24) {SEFI Type E –};
\node[text=gold, font=\fontsize{9}{10}\selectfont] at (837,42) {Continuous Line Errors};
\foreach \l/\yy in {a./70, b./157, c./253, d./337, e./432, f./527, g./611, h./705}
  \node[anchor=base west, inner sep=0pt, font=\bfseries\fontsize{12}{13}\selectfont] at (12,\yy) {\l};
\end{scope}
\end{tikzpicture}
\end{document}
